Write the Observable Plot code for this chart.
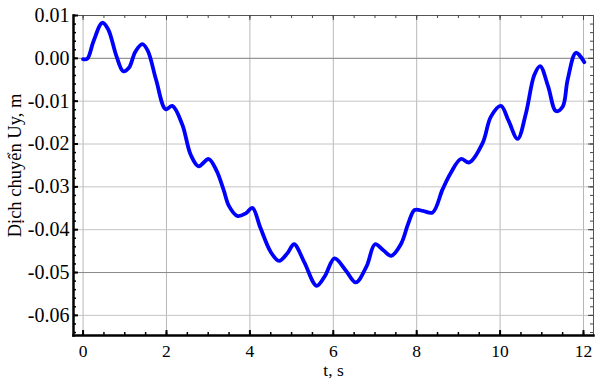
<!DOCTYPE html>
<html>
<head>
<meta charset="utf-8">
<script src="https://cdn.jsdelivr.net/npm/d3@7"></script>
<script src="https://cdn.jsdelivr.net/npm/@observablehq/plot@0.6"></script>
<style>
  html, body { margin: 0; padding: 0; background: #fff; }
  #chart { width: 601px; height: 380px; }
</style>
</head>
<body>
<div id="chart"></div>
<script>
// Time (s) and displacement Uy (m)
const tValues = [0.0, 0.1, 0.25, 0.46, 0.6, 0.8, 0.96, 1.1, 1.25, 1.42, 1.55, 1.75, 1.98, 2.14, 2.38, 2.58, 2.77, 3.01, 3.2, 3.37, 3.5, 3.7, 3.9, 4.06, 4.25, 4.5, 4.7, 4.9, 5.06, 5.3, 5.6, 5.8, 6.03, 6.3, 6.54, 6.8, 7.0, 7.2, 7.39, 7.62, 7.8, 7.95, 8.15, 8.38, 8.62, 8.82, 9.06, 9.26, 9.58, 9.78, 10.02, 10.2, 10.42, 10.62, 10.82, 10.96, 11.15, 11.34, 11.5, 11.62, 11.82, 12.02];
const uyValues = [-0.0002, -0.0001, 0.004, 0.0083, 0.0068, 0.0005, -0.003, -0.0022, 0.0015, 0.0033, 0.0018, -0.005, -0.0119, -0.0111, -0.0155, -0.0225, -0.0252, -0.0235, -0.0262, -0.0307, -0.0345, -0.0368, -0.0362, -0.0349, -0.0395, -0.0452, -0.0473, -0.0455, -0.0434, -0.0475, -0.0531, -0.0508, -0.0467, -0.0495, -0.0523, -0.0485, -0.0434, -0.0448, -0.0461, -0.0434, -0.0385, -0.0354, -0.0356, -0.036, -0.0306, -0.0267, -0.0235, -0.0243, -0.0198, -0.0136, -0.0111, -0.0145, -0.0188, -0.0128, -0.0039, -0.0018, -0.0065, -0.0123, -0.0113, -0.005, 0.0013, -0.0009];

const xTicks = [0, 2, 4, 6, 8, 10, 12];
const yTicks = [0.01, 0.0, -0.01, -0.02, -0.03, -0.04, -0.05, -0.06];
const xMinorTicks = d3.range(0, 12.01, 0.5);
const yMinorTicks = d3.range(-0.064, 0.0101, 0.002);
const darkGridY = [0.0, -0.05];
const xLabel = "t, s";
const yLabel = "Dịch chuyển Uy, m";
const xDomain = [-0.23, 12.24];
const yDomain = [-0.0647, 0.01];

const data = tValues.map((t, i) => ({t, uy: uyValues[i]}));

const W = 601, H = 380;
const mL = 73, mR = 8, mT = 15, mB = 45;
const pw = W - mL - mR, ph = H - mT - mB;
const serif = "Liberation Serif, DejaVu Serif, serif";

const fmtY = d => (d < 0 ? "-" : "") + Math.abs(d).toFixed(2);

const chart = Plot.plot({
  width: W,
  height: H,
  marginLeft: mL,
  marginRight: mR,
  marginTop: mT,
  marginBottom: mB,
  style: {fontFamily: serif, fontSize: "17px", color: "#000", background: "#fff"},
  x: {domain: xDomain},
  y: {domain: yDomain},
  marks: [
    Plot.gridX(xTicks, {stroke: "#b8b8b8", strokeOpacity: 1, strokeWidth: 1}),
    Plot.gridY(yTicks, {stroke: "#c4c4c4", strokeOpacity: 1, strokeWidth: 1}),
    Plot.gridY(darkGridY, {stroke: "#8c8c8c", strokeOpacity: 1, strokeWidth: 1}),
    // frame
    Plot.frame({stroke: "#555", strokeWidth: 1}),
    Plot.frame({anchor: "left", stroke: "#000", strokeWidth: 2.5}),
    Plot.frame({anchor: "bottom", stroke: "#000", strokeWidth: 2.5}),
    // inward tick marks
    Plot.tickX(xTicks, {x: d => d, insetTop: ph - 5, stroke: "#000", strokeWidth: 2}),
    Plot.tickX(xMinorTicks, {x: d => d, insetTop: ph - 3, stroke: "#000", strokeWidth: 1.5}),
    Plot.tickX(xTicks, {x: d => d, insetBottom: ph - 5, stroke: "#444", strokeWidth: 1}),
    Plot.tickX(xMinorTicks, {x: d => d, insetBottom: ph - 3, stroke: "#444", strokeWidth: 1}),
    Plot.tickY(yTicks, {y: d => d, insetRight: pw - 5, stroke: "#000", strokeWidth: 2}),
    Plot.tickY(yMinorTicks, {y: d => d, insetRight: pw - 3, stroke: "#000", strokeWidth: 1.5}),
    Plot.tickY(yTicks, {y: d => d, insetLeft: pw - 5, stroke: "#444", strokeWidth: 1}),
    Plot.tickY(yMinorTicks, {y: d => d, insetLeft: pw - 3, stroke: "#444", strokeWidth: 1}),
    // axes
    Plot.axisX(xTicks, {tickSize: 0, tickPadding: 9, fontSize: 17.5, fontFamily: serif, label: xLabel, labelAnchor: "center", labelArrow: "none", labelOffset: 40}),
    Plot.axisY(yTicks, {tickSize: 0, tickPadding: 4, fontSize: 20, fontFamily: serif, tickFormat: fmtY, label: null}),
    Plot.text([yLabel], {frameAnchor: "left", rotate: -90, dx: -58, dy: -10, fontSize: 18.5, fontFamily: serif, fill: "#000", textAnchor: "middle"}),
    // data line
    Plot.line(data, {x: "t", y: "uy", stroke: "#0000ff", strokeWidth: 3.8, curve: "catmull-rom"})
  ]
});
chart.querySelectorAll("text").forEach(el => el.setAttribute("fill", "#000"));
document.getElementById("chart").appendChild(chart);
</script>
</body>
</html>
